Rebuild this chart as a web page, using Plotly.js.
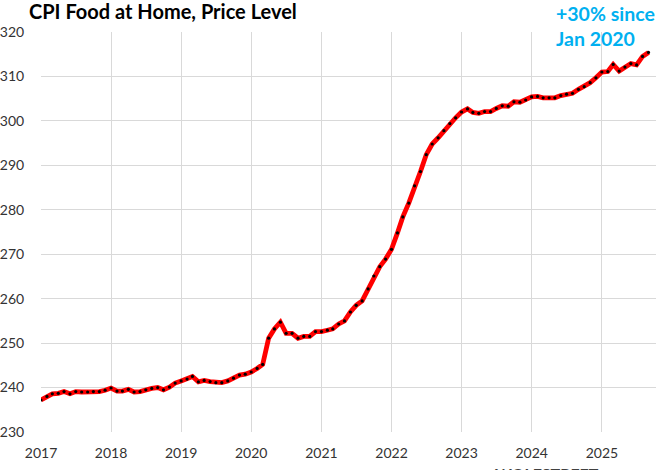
<!DOCTYPE html>
<html>
<head>
<meta charset="utf-8">
<script src="https://cdn.plot.ly/plotly-3.0.1.min.js"></script>
<style>html,body{margin:0;padding:0;background:#fff}#chart{width:660px;height:470px}</style>
</head>
<body>
<div id="chart"></div>
<script>
var startYear = 2017;
var cpiFoodAtHome = [
  237.2, 238.0, 238.6, 238.7, 239.1, 238.6, 239.1, 239.0, 239.0, 239.1, 239.1, 239.4,
  239.9, 239.2, 239.2, 239.6, 239.0, 239.1, 239.5, 239.8, 240.0, 239.5, 240.1, 241.0,
  241.5, 241.9, 242.5, 241.3, 241.6, 241.35, 241.1, 241.1, 241.5, 242.1, 242.8, 243.0,
  243.5, 244.3, 245.2, 251.1, 253.2, 254.7, 252.2, 252.2, 251.1, 251.5, 251.5, 252.6,
  252.6, 252.9, 253.2, 254.3, 255.0, 257.0, 258.5, 259.5, 262.2, 265.1, 267.2, 268.9,
  271.1, 274.8, 278.4, 281.5, 285.4, 288.6, 292.4, 294.8, 296.2, 297.8, 299.4, 300.7,
  302.0, 302.7, 301.9, 301.7, 302.1, 302.1, 302.8, 303.4, 303.3, 304.3, 304.2, 304.7,
  305.4, 305.5, 305.2, 305.2, 305.2, 305.7, 306.0, 306.2, 307.1, 307.7, 308.6, 309.7,
  311.0, 311.1, 312.7, 311.2, 312.1, 312.9, 312.6, 314.5, 315.4
];
var yearTicks = ["2017","2018","2019","2020","2021","2022","2023","2024","2025"];
var titleText = "CPI Food at Home, Price Level";
var noteText = "+30% since<br>Jan 2020";
var sourceText = "WOLFSTREET.com";

var months = [];
for (var i = 0; i < cpiFoodAtHome.length; i++) {
  var y = startYear + Math.floor(i / 12);
  var m = (i % 12) + 1;
  months.push(y + "-" + (m < 10 ? "0" + m : m) + "-01");
}
var tickDates = yearTicks.map(function (t) { return t + "-01-01"; });

var font = "Lato, 'Open Sans', sans-serif";
var trace = {
  x: months, y: cpiFoodAtHome, type: "scatter", mode: "lines+markers",
  line: {color: "#ff0000", width: 4.8},
  marker: {color: "#000000", size: 3.2},
  hoverinfo: "x+y"
};
var layout = {
  width: 660, height: 470,
  margin: {l: 41, r: 4, t: 32, b: 38},
  paper_bgcolor: "#ffffff", plot_bgcolor: "#ffffff",
  showlegend: false,
  font: {family: font, color: "#333333", size: 14},
  xaxis: {
    type: "date", range: ["2017-01-01", "2025-10-10"],
    tickvals: tickDates, ticktext: yearTicks,
    showgrid: true, gridcolor: "#d9d9d9", gridwidth: 1,
    zeroline: false, showline: false,
    ticks: "outside", ticklen: 8, tickcolor: "rgba(0,0,0,0)",
    tickfont: {size: 14, family: font, color: "#333333"}
  },
  yaxis: {
    range: [230, 320], dtick: 10, tick0: 230,
    showgrid: true, gridcolor: "#d9d9d9", gridwidth: 1,
    zeroline: false, showline: false,
    ticks: "outside", ticklen: 13, tickcolor: "rgba(0,0,0,0)",
    tickfont: {size: 14, family: font, color: "#333333"}
  },
  annotations: [
    {text: "<b>" + titleText + "</b>", xref: "paper", yref: "paper",
     x: -0.023, y: 1.0, xanchor: "left", yanchor: "bottom", yshift: 7, showarrow: false,
     font: {size: 20, family: font, color: "#000000"}},
    {text: "<b>" + noteText + "</b>", xref: "paper", yref: "paper",
     x: 0.834, y: 1.08, xanchor: "left", yanchor: "top", align: "left", showarrow: false,
     font: {size: 19.5, family: font, color: "#00b0f0"}},
    {text: "<b>" + sourceText + "</b>", xref: "paper", yref: "paper",
     x: 0.735, y: 0, xanchor: "left", yanchor: "top", yshift: -30, showarrow: false,
     font: {size: 16, family: font, color: "#404040"}}
  ]
};
Plotly.newPlot("chart", [trace], layout, {displayModeBar: false, staticPlot: true});
</script>
</body>
</html>
